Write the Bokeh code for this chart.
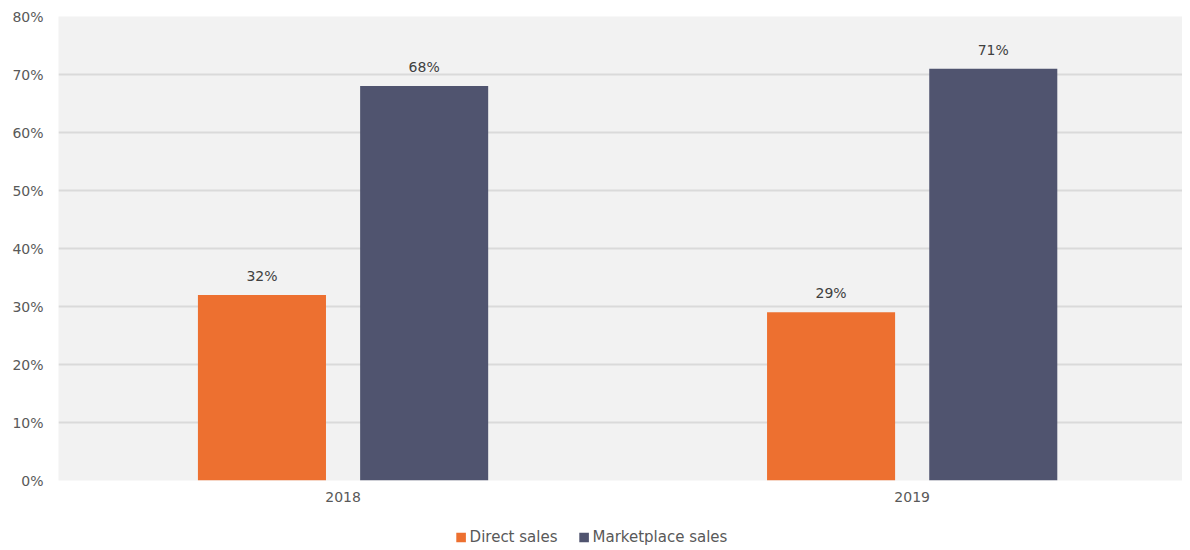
from bokeh.plotting import figure
from bokeh.layouts import column
from bokeh.models import ColumnDataSource, Range1d, FixedTicker, PrintfTickFormatter, Legend, LegendItem
from bokeh.core.properties import value
from bokeh.transform import dodge
from bokeh.embed import file_html
from bokeh.resources import INLINE

years = ["2018", "2019"]
direct_sales = [32, 29]
marketplace_sales = [68, 71]
series_names = ["Direct sales", "Marketplace sales"]
colors = ["#ED7030", "#50546F"]
y_ticks = [0, 10, 20, 30, 40, 50, 60, 70, 80]

xpos = [i + 0.5 for i in range(len(years))]
src = ColumnDataSource(dict(
    x=xpos,
    direct=direct_sales,
    market=marketplace_sales,
    direct_lbl=[f"{v}%" for v in direct_sales],
    market_lbl=[f"{v}%" for v in marketplace_sales],
))

FONT = "DejaVu Sans"
p = figure(frame_width=1124, frame_height=464, output_backend="svg", toolbar_location=None,
           x_range=Range1d(0, 1.975), y_range=Range1d(0, 80),
           min_border_left=58, min_border_top=16, min_border_right=0, min_border_bottom=30)
p.background_fill_color = "#F2F2F2"
p.border_fill_color = "white"
p.outline_line_color = None

off = 0.1425
bw = 0.225
p.vbar(x=dodge("x", -off), top="direct", width=bw, bottom=0, source=src,
       fill_color=colors[0], line_color=None)
p.vbar(x=dodge("x", off), top="market", width=bw, bottom=0, source=src,
       fill_color=colors[1], line_color=None)

for col, lbl, o in (("direct", "direct_lbl", -off), ("market", "market_lbl", off)):
    p.text(x=dodge("x", o), y=col, text=lbl, source=src, text_align="center",
           text_baseline="bottom", y_offset=-11, text_font=value(FONT),
           text_font_size="14px", text_color="#404040")

p.xgrid.grid_line_color = None
p.ygrid.grid_line_color = "#DADADA"
p.ygrid.grid_line_width = 2
p.ygrid.ticker = FixedTicker(ticks=y_ticks)

p.yaxis.ticker = FixedTicker(ticks=y_ticks)
p.yaxis.formatter = PrintfTickFormatter(format="%d%%")
p.xaxis.ticker = FixedTicker(ticks=xpos)
p.xaxis.major_label_overrides = {x: y for x, y in zip(xpos, years)}
for ax in (p.xaxis[0], p.yaxis[0]):
    ax.axis_line_color = None
    ax.major_tick_line_color = None
    ax.minor_tick_line_color = None
    ax.major_label_text_font = FONT
    ax.major_label_text_font_size = "14px"
    ax.major_label_text_color = "#595959"
p.yaxis.major_label_standoff = 9
p.xaxis.major_label_standoff = 5

# legend strip below the chart (its renderers are hidden; only their swatches show)
leg = figure(frame_width=1182, frame_height=54, output_backend="svg", toolbar_location=None,
             x_axis_type=None, y_axis_type=None,
             x_range=Range1d(0, 1.975), y_range=Range1d(-20, -10),
             min_border_left=0, min_border_right=0, min_border_top=0, min_border_bottom=0)
leg.outline_line_color = None
leg.grid.grid_line_color = None
lr1 = leg.vbar(x="x", top="direct", width=bw, bottom=0, source=src,
               fill_color=colors[0], line_color=None)
lr2 = leg.vbar(x="x", top="market", width=bw, bottom=0, source=src,
               fill_color=colors[1], line_color=None)
lr1.visible = False
lr2.visible = False
legend = Legend(items=[LegendItem(label=series_names[0], renderers=[lr1]),
                       LegendItem(label=series_names[1], renderers=[lr2])],
                orientation="horizontal", location="center",
                label_text_font=FONT, label_text_font_size="15px",
                label_text_color="#595959", glyph_width=12, glyph_height=12,
                label_standoff=3, spacing=20, padding=0, margin=0,
                border_line_color=None, background_fill_alpha=0)
leg.add_layout(legend, "center")

layout = column(p, leg, spacing=0)
open("out.html", "w").write(file_html(layout, INLINE))
